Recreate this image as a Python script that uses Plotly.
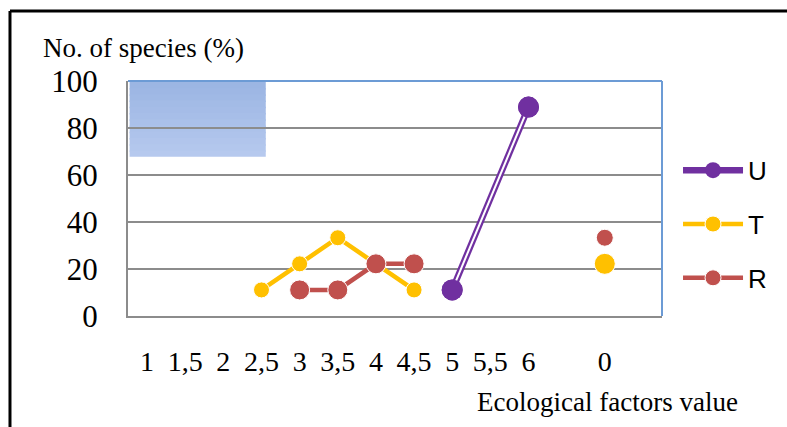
import plotly.graph_objects as go

categories = ["1", "1,5", "2", "2,5", "3", "3,5", "4", "4,5", "5", "5,5", "6", "", "0", ""]
U = [None, None, None, None, None, None, None, None, 11.1, None, 88.9, None, None, None]
T = [None, None, None, 11.1, 22.2, 33.3, 22.2, 11.1, None, None, None, None, 22.2, None]
R = [None, None, None, None, 11.1, 11.1, 22.2, 22.2, None, None, None, None, 33.3, None]
y_ticks = [0, 20, 40, 60, 80, 100]

x = list(range(len(categories)))
SERIF = "Liberation Serif"
SANS = "Liberation Sans"
PURPLE = "#7030A0"
YELLOW = "#FFC000"
RED = "#C0504D"

fig = go.Figure()
# U: double (compound) line
fig.add_trace(go.Scatter(x=x, y=U, mode="lines+markers", name="U", connectgaps=True,
                         line=dict(color=PURPLE, width=6.5),
                         marker=dict(color=PURPLE, size=21, opacity=1), legendgroup="U"))
fig.add_trace(go.Scatter(x=x, y=U, mode="lines", connectgaps=True, showlegend=False,
                         line=dict(color="white", width=2), hoverinfo="skip", legendgroup="U"))
fig.add_trace(go.Scatter(x=x, y=U, mode="markers", connectgaps=True, showlegend=False,
                         marker=dict(color=PURPLE, size=21, opacity=1), hoverinfo="skip",
                         legendgroup="U"))
t_sizes = [16] * len(T)
t_sizes[12] = 21
fig.add_trace(go.Scatter(x=x, y=T, mode="lines+markers", name="T", connectgaps=False,
                         line=dict(color=YELLOW, width=4.5),
                         marker=dict(color=YELLOW, size=t_sizes, opacity=1), legendgroup="T"))
r_sizes = [20] * len(R)
r_sizes[12] = 17
fig.add_trace(go.Scatter(x=x, y=R, mode="lines+markers", name="R", connectgaps=False,
                         line=dict(color=RED, width=4.5),
                         marker=dict(color=RED, size=r_sizes, opacity=1), legendgroup="R"))

shapes = []
# gradient blue box in top-left (decoration)
n = 12
top, bot = 0.996, 0.678
c0 = (156, 182, 227)
c1 = (182, 201, 238)
for i in range(n):
    f = i / (n - 1)
    c = tuple(int(c0[k] + (c1[k] - c0[k]) * f) for k in range(3))
    y1 = top - (top - bot) * i / n
    y0 = max(bot, top - (top - bot) * (i + 1) / n - 0.006)
    shapes.append(dict(type="rect", xref="paper", yref="paper", layer="below",
                       x0=0.003, x1=0.258, y0=y0, y1=y1,
                       line=dict(width=0), fillcolor="rgb(%d,%d,%d)" % c))
# blue plot border top/right
shapes.append(dict(type="line", xref="paper", yref="paper", x0=0, x1=1, y0=1, y1=1,
                   line=dict(color="#6C9BD5", width=2)))
shapes.append(dict(type="line", xref="paper", yref="paper", x0=1, x1=1, y0=0, y1=1,
                   line=dict(color="#6C9BD5", width=2)))
# outer black frame (top and left)
shapes.append(dict(type="line", xref="paper", yref="paper", x0=-0.221, x1=1.25, y0=1.298, y1=1.298,
                   line=dict(color="black", width=3)))
shapes.append(dict(type="line", xref="paper", yref="paper", x0=-0.221, x1=-0.221, y0=1.298, y1=-0.5,
                   line=dict(color="black", width=3)))

fig.update_layout(
    width=787, height=427,
    margin=dict(l=128, r=125, t=81, b=111),
    paper_bgcolor="white", plot_bgcolor="white",
    shapes=shapes,
    showlegend=True,
    legend=dict(x=1.03, y=0.72, xanchor="left", yanchor="top",
                font=dict(family=SANS, size=26, color="black"),
                tracegroupgap=17, itemwidth=60, bgcolor="rgba(0,0,0,0)"),
    annotations=[
        dict(text="No. of species (%)", xref="paper", yref="paper", x=-0.162, y=1.14,
             xanchor="left", yanchor="middle", showarrow=False,
             font=dict(family=SERIF, size=27, color="black")),
        dict(text="Ecological factors value", xref="paper", yref="paper", x=0.650, y=-0.365,
             xanchor="left", yanchor="middle", showarrow=False,
             font=dict(family=SERIF, size=27, color="black")),
    ],
)
fig.update_xaxes(range=[-0.5, len(categories) - 0.5], tickmode="array", tickvals=x,
                 ticktext=categories, showgrid=False, zeroline=False,
                 showline=True, linecolor="#8C8C8C", linewidth=2, ticks="",
                 ticklabelstandoff=19,
                 tickfont=dict(family=SERIF, size=28, color="black"))
fig.update_yaxes(range=[0, 100], tickmode="array", tickvals=y_ticks,
                 showgrid=True, gridcolor="#8C8C8C", gridwidth=2, zeroline=False,
                 showline=True, linecolor="#8C8C8C", linewidth=2, ticks="",
                 ticklabelstandoff=22,
                 tickfont=dict(family=SERIF, size=31, color="black"))

fig.write_html("out.html", config={"displayModeBar": False},
               post_script="document.body.style.margin='0';document.body.style.padding='0';")
